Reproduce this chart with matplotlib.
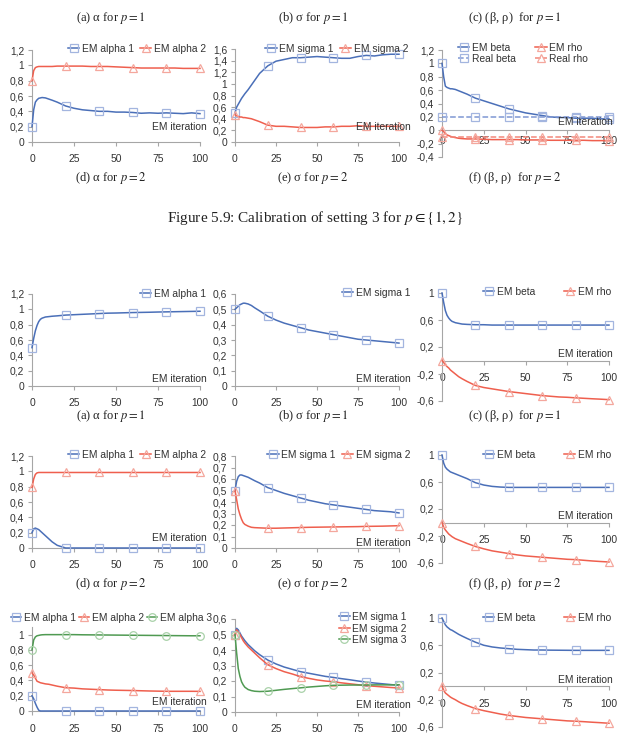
import matplotlib
matplotlib.use("Agg")
import matplotlib.pyplot as plt
from matplotlib.ticker import FuncFormatter

plt.rcParams["font.family"] = ["Liberation Sans", "DejaVu Sans"]
plt.rcParams["mathtext.fontset"] = "stix"

W, H = 625, 740

BLUE, BLUE_M = "#4a6fb8", "#a3b5df"
RED, RED_M = "#ef5f4e", "#f4a79d"
GREEN, GREEN_M = "#4f9a52", "#a9d1a9"
AXIS_GRAY = "#a6a6a6"
TEXT = "#333333"

ITER = [0, 1, 2, 3, 4, 5, 6, 8, 10, 12, 15, 20, 25, 30, 35, 40, 45, 50, 55,
        60, 65, 70, 75, 80, 85, 90, 95, 100]
REAL_ITER = [0, 20, 40, 60, 80, 100]
X_TICKS = [0, 25, 50, 75, 100]

# ---- setting 3 (top block) ----
S3_P1_ALPHA1 = [0.20, 0.42, 0.52, 0.55, 0.57, 0.575, 0.58, 0.575, 0.56, 0.545, 0.52, 0.47, 0.44, 0.42,
                0.41, 0.40, 0.40, 0.39, 0.39, 0.385, 0.375, 0.38, 0.375, 0.38, 0.375, 0.37, 0.38, 0.37]
S3_P1_ALPHA2 = [0.80, 0.93, 0.97, 0.98, 0.985, 0.985, 0.985, 0.985, 0.985, 0.985, 0.99, 0.99, 0.99, 0.99,
                0.985, 0.985, 0.985, 0.98, 0.975, 0.97, 0.965, 0.965, 0.965, 0.965, 0.965, 0.96, 0.96, 0.96]
S3_P1_SIGMA1 = [0.50, 0.60, 0.65, 0.70, 0.75, 0.79, 0.83, 0.90, 0.98, 1.06, 1.18, 1.31, 1.39, 1.42,
                1.45, 1.45, 1.46, 1.47, 1.46, 1.45, 1.44, 1.44, 1.47, 1.49, 1.48, 1.50, 1.51, 1.51]
S3_P1_SIGMA2 = [0.47, 0.45, 0.44, 0.43, 0.43, 0.42, 0.42, 0.41, 0.40, 0.38, 0.35, 0.29, 0.27, 0.27,
                0.26, 0.25, 0.25, 0.25, 0.26, 0.26, 0.27, 0.27, 0.28, 0.27, 0.27, 0.27, 0.27, 0.27]
S3_P1_BETA = [1.0, 0.80, 0.66, 0.64, 0.63, 0.62, 0.62, 0.61, 0.59, 0.57, 0.54, 0.48, 0.44, 0.40,
              0.36, 0.32, 0.29, 0.26, 0.24, 0.22, 0.20, 0.19, 0.19, 0.18, 0.18, 0.18, 0.17, 0.17]
S3_P1_RHO = [0.0, -0.02, -0.05, -0.07, -0.08, -0.09, -0.10, -0.11, -0.12, -0.125, -0.13, -0.13, -0.135, -0.14,
             -0.14, -0.14, -0.14, -0.145, -0.145, -0.145, -0.15, -0.15, -0.15, -0.15, -0.15, -0.155, -0.155, -0.155]
S3_REAL_BETA = [0.2, 0.2, 0.2, 0.2, 0.2, 0.2]
S3_REAL_RHO = [-0.1, -0.1, -0.1, -0.1, -0.1, -0.1]

# ---- next setting, p = 1 ----
B_P1_ALPHA1 = [0.50, 0.62, 0.72, 0.79, 0.84, 0.87, 0.885, 0.90, 0.905, 0.91, 0.915, 0.925, 0.93, 0.935,
               0.94, 0.945, 0.95, 0.952, 0.955, 0.958, 0.96, 0.962, 0.965, 0.967, 0.969, 0.971, 0.973, 0.975]
B_P1_SIGMA1 = [0.50, 0.51, 0.52, 0.53, 0.535, 0.54, 0.54, 0.535, 0.525, 0.51, 0.49, 0.455, 0.43, 0.41,
               0.395, 0.38, 0.365, 0.355, 0.345, 0.335, 0.325, 0.315, 0.305, 0.30, 0.295, 0.29, 0.285, 0.28]
B_P1_BETA = [1.0, 0.86, 0.74, 0.67, 0.63, 0.60, 0.58, 0.56, 0.55, 0.54, 0.535, 0.53, 0.53, 0.525,
             0.525, 0.525, 0.525, 0.525, 0.525, 0.525, 0.525, 0.525, 0.525, 0.525, 0.525, 0.525, 0.525, 0.525]
B_P1_RHO = [0.0, -0.03, -0.06, -0.09, -0.11, -0.14, -0.16, -0.20, -0.24, -0.27, -0.31, -0.37, -0.40, -0.42,
            -0.44, -0.46, -0.475, -0.49, -0.505, -0.52, -0.53, -0.54, -0.545, -0.553, -0.56, -0.567, -0.573, -0.58]

# ---- next setting, p = 2 ----
B_P2_ALPHA1 = [0.20, 0.25, 0.26, 0.25, 0.24, 0.22, 0.20, 0.16, 0.12, 0.08, 0.035, 0.0, 0.0, 0.0,
               0.0, 0.0, 0.0, 0.0, 0.0, 0.0, 0.0, 0.0, 0.0, 0.0, 0.0, 0.0, 0.0, 0.0]
B_P2_ALPHA2 = [0.79, 0.90, 0.96, 0.98, 0.985, 0.985, 0.985, 0.985, 0.985, 0.985, 0.985, 0.985, 0.985, 0.985,
               0.985, 0.985, 0.985, 0.985, 0.985, 0.985, 0.985, 0.985, 0.985, 0.985, 0.985, 0.985, 0.985, 0.985]
B_P2_SIGMA1 = [0.50, 0.58, 0.62, 0.635, 0.635, 0.63, 0.625, 0.615, 0.60, 0.585, 0.565, 0.525, 0.50, 0.475,
               0.455, 0.435, 0.415, 0.40, 0.385, 0.375, 0.365, 0.355, 0.345, 0.335, 0.325, 0.32, 0.315, 0.305]
B_P2_SIGMA2 = [0.50, 0.42, 0.34, 0.29, 0.25, 0.22, 0.205, 0.19, 0.18, 0.177, 0.175, 0.172, 0.172, 0.174,
               0.176, 0.178, 0.18, 0.181, 0.182, 0.183, 0.184, 0.185, 0.186, 0.188, 0.189, 0.19, 0.192, 0.194]
B_P2_BETA = [1.0, 0.88, 0.82, 0.79, 0.77, 0.75, 0.74, 0.72, 0.70, 0.68, 0.65, 0.59, 0.555, 0.535,
             0.525, 0.52, 0.52, 0.52, 0.52, 0.52, 0.52, 0.52, 0.52, 0.52, 0.52, 0.52, 0.52, 0.52]
B_P2_RHO = [0.0, -0.07, -0.11, -0.14, -0.17, -0.19, -0.21, -0.24, -0.26, -0.28, -0.31, -0.355, -0.39, -0.42,
            -0.44, -0.46, -0.48, -0.495, -0.505, -0.515, -0.525, -0.535, -0.545, -0.55, -0.56, -0.57, -0.578, -0.585]

# ---- last block, p = 2 with three components ----
C_P2_ALPHA1 = [0.20, 0.16, 0.10, 0.05, 0.01, 0.0, 0.0, 0.0, 0.0, 0.0, 0.0, 0.0, 0.0, 0.0,
               0.0, 0.0, 0.0, 0.0, 0.0, 0.0, 0.0, 0.0, 0.0, 0.0, 0.0, 0.0, 0.0, 0.0]
C_P2_ALPHA2 = [0.50, 0.47, 0.43, 0.39, 0.38, 0.37, 0.365, 0.355, 0.35, 0.34, 0.325, 0.305, 0.30, 0.29,
               0.285, 0.28, 0.275, 0.272, 0.27, 0.268, 0.265, 0.262, 0.26, 0.258, 0.258, 0.258, 0.258, 0.257]
C_P2_ALPHA3 = [0.80, 0.93, 0.97, 0.985, 0.99, 0.995, 0.998, 1.0, 1.0, 1.0, 1.0, 1.0, 1.0, 0.998,
               0.997, 0.996, 0.995, 0.994, 0.993, 0.992, 0.991, 0.99, 0.989, 0.988, 0.987, 0.986, 0.985, 0.985]
C_P2_SIGMA1 = [0.50, 0.54, 0.53, 0.51, 0.49, 0.475, 0.46, 0.435, 0.415, 0.395, 0.37, 0.335, 0.31, 0.29,
               0.275, 0.26, 0.25, 0.24, 0.23, 0.223, 0.215, 0.208, 0.20, 0.193, 0.187, 0.182, 0.177, 0.172]
C_P2_SIGMA2 = [0.50, 0.53, 0.515, 0.50, 0.48, 0.46, 0.445, 0.42, 0.40, 0.38, 0.35, 0.305, 0.28, 0.26,
               0.245, 0.228, 0.217, 0.207, 0.20, 0.195, 0.188, 0.182, 0.176, 0.17, 0.166, 0.162, 0.158, 0.155]
C_P2_SIGMA3 = [0.50, 0.38, 0.28, 0.23, 0.195, 0.175, 0.16, 0.145, 0.138, 0.134, 0.132, 0.134, 0.14, 0.146,
               0.151, 0.156, 0.161, 0.165, 0.169, 0.172, 0.173, 0.174, 0.174, 0.174, 0.175, 0.175, 0.175, 0.176]
C_P2_BETA = [1.0, 0.95, 0.90, 0.87, 0.85, 0.83, 0.82, 0.79, 0.76, 0.735, 0.70, 0.645, 0.60, 0.575,
             0.56, 0.55, 0.54, 0.535, 0.53, 0.53, 0.528, 0.527, 0.526, 0.525, 0.525, 0.525, 0.525, 0.525]
C_P2_RHO = [0.0, -0.06, -0.10, -0.12, -0.14, -0.16, -0.175, -0.20, -0.23, -0.255, -0.285, -0.33, -0.36, -0.385,
            -0.41, -0.43, -0.445, -0.46, -0.47, -0.48, -0.49, -0.50, -0.51, -0.515, -0.522, -0.53, -0.537, -0.545]


def comma(v, _pos):
    return f"{v:.10g}".replace(".", ",")


def make_axes(fig, left, right, top, bottom):
    """Axes placed by pixel box (top/bottom = pixel rows of y-limits)."""
    return fig.add_axes([left / W, 1 - bottom / H, (right - left) / W, (bottom - top) / H])


def style(ax, ylim, yticks, xpad=6):
    ax.set_xlim(0, 100)
    ax.set_ylim(*ylim)
    ax.set_xticks(X_TICKS)
    ax.set_yticks(yticks)
    ax.yaxis.set_major_formatter(FuncFormatter(comma))
    ax.set_facecolor("none")
    for s in ("top", "right"):
        ax.spines[s].set_visible(False)
    for s in ("left", "bottom"):
        ax.spines[s].set_color(AXIS_GRAY)
        ax.spines[s].set_linewidth(0.8)
    if ylim[0] < 0:
        ax.spines["bottom"].set_position(("data", 0))
    ax.tick_params(direction="out", length=3, width=0.8, color=AXIS_GRAY,
                   labelsize=7.4, labelcolor=TEXT, pad=2.5)
    ax.tick_params(axis="x", pad=xpad)


def series(ax, x, y, color, edge, marker, label, ls="-"):
    marks = [i for i, v in enumerate(x) if v % 20 == 0]
    ax.plot(x, y, color=color, lw=1.1, ls=ls, marker=marker, markevery=marks,
            ms=5.5, mfc="none", mec=edge, mew=0.9, label=label, clip_on=False, zorder=3)


def legend(ax, x, y, loc, ncol=1, colsp=0.6, labsp=0.2, hlen=1.1):
    ax.legend(loc=loc, bbox_to_anchor=(x / W, 1 - y / H), bbox_transform=ax.figure.transFigure,
              ncol=ncol, frameon=False, fontsize=7.4, handlelength=hlen, handletextpad=0.25,
              columnspacing=colsp, borderpad=0, borderaxespad=0, labelspacing=labsp,
              labelcolor=TEXT)


def em_label(fig, right, y):
    fig.text(right / W, 1 - y / H, "EM iteration", ha="right", va="center",
             fontsize=7.4, color=TEXT)


SERIF = ["Liberation Serif", "DejaVu Serif"]


def caption(fig, x, y, s, size=9):
    fig.text(x / W, 1 - y / H, s, ha="center", va="center", fontsize=size,
             family=SERIF, color="#222222")


def caption_row(fig, y, p):
    tags = ("(a)", "(b)", "(c)") if p == "1" else ("(d)", "(e)", "(f)")
    caption(fig, 111, y, f"{tags[0]} α for $p = {p}$")
    caption(fig, 313, y, f"{tags[1]} σ for $p = {p}$")
    caption(fig, 515, y, f"{tags[2]} (β, ρ)  for $p = {p}$")


fig = plt.figure(figsize=(W / 100, H / 100), dpi=100)

# ---------- captions ----------
caption_row(fig, 18, "1")
caption_row(fig, 178, "2")
caption(fig, 315, 218, r"Figure 5.9: Calibration of setting 3 for $p \in \{1,2\}$", size=11)
caption_row(fig, 416, "1")
caption_row(fig, 584, "2")

TICKS_12 = [0, 0.2, 0.4, 0.6, 0.8, 1.0, 1.2]
TICKS_BR = [-0.6, -0.2, 0.2, 0.6, 1.0]

# ---------- row 1 : setting 3 ----------
ax = make_axes(fig, 32, 200, 50, 142)
style(ax, (0, 1.2), TICKS_12)
series(ax, ITER, S3_P1_ALPHA1, BLUE, BLUE_M, "s", "EM alpha 1")
series(ax, ITER, S3_P1_ALPHA2, RED, RED_M, "^", "EM alpha 2")
legend(ax, 206, 49, "center right", ncol=2)
em_label(fig, 207, 127)

ax = make_axes(fig, 235, 399, 49, 142)
style(ax, (0, 1.6), [0, 0.2, 0.4, 0.6, 0.8, 1.0, 1.2, 1.4, 1.6])
series(ax, ITER, S3_P1_SIGMA1, BLUE, BLUE_M, "s", "EM sigma 1")
series(ax, ITER, S3_P1_SIGMA2, RED, RED_M, "^", "EM sigma 2")
legend(ax, 408, 49, "center right", ncol=2)
em_label(fig, 411, 127)

ax = make_axes(fig, 442, 609, 50, 157)
style(ax, (-0.4, 1.2), [-0.4, -0.2, 0, 0.2, 0.4, 0.6, 0.8, 1.0, 1.2], xpad=1.5)
series(ax, ITER, S3_P1_BETA, BLUE, BLUE_M, "s", "EM beta")
series(ax, REAL_ITER, S3_REAL_BETA, "#7f97d3", BLUE_M, "s", "Real beta", ls="--")
series(ax, ITER, S3_P1_RHO, RED, RED_M, "^", "EM rho")
series(ax, REAL_ITER, S3_REAL_RHO, "#f3877a", RED_M, "^", "Real rho", ls="--")
legend(ax, 458, 43, "upper left", ncol=2, colsp=1.9, labsp=0.1)
em_label(fig, 613, 122)

# ---------- row 2 : p = 1 ----------
ax = make_axes(fig, 32, 200, 294, 386)
style(ax, (0, 1.2), TICKS_12)
series(ax, ITER, B_P1_ALPHA1, BLUE, BLUE_M, "s", "EM alpha 1")
legend(ax, 206, 294, "center right")
em_label(fig, 207, 379)

ax = make_axes(fig, 235, 399, 294, 386)
style(ax, (0, 0.6), [0, 0.1, 0.2, 0.3, 0.4, 0.5, 0.6])
series(ax, ITER, B_P1_SIGMA1, BLUE, BLUE_M, "s", "EM sigma 1")
legend(ax, 410, 293, "center right")
em_label(fig, 411, 379)

ax = make_axes(fig, 442, 609, 293, 401)
style(ax, (-0.6, 1.0), TICKS_BR)
series(ax, ITER, B_P1_BETA, BLUE, BLUE_M, "s", "EM beta")
series(ax, ITER, B_P1_RHO, RED, RED_M, "^", "EM rho")
legend(ax, 483, 292, "center left", ncol=2, colsp=2.8)
em_label(fig, 613, 354)

# ---------- row 3 : p = 2 ----------
ax = make_axes(fig, 32, 200, 456, 548)
style(ax, (0, 1.2), TICKS_12)
series(ax, ITER, B_P2_ALPHA1, BLUE, BLUE_M, "s", "EM alpha 1")
series(ax, ITER, B_P2_ALPHA2, RED, RED_M, "^", "EM alpha 2")
legend(ax, 206, 455, "center right", ncol=2)
em_label(fig, 207, 538)

ax = make_axes(fig, 235, 399, 456, 548)
style(ax, (0, 0.8), [0, 0.1, 0.2, 0.3, 0.4, 0.5, 0.6, 0.7, 0.8])
series(ax, ITER, B_P2_SIGMA1, BLUE, BLUE_M, "s", "EM sigma 1")
series(ax, ITER, B_P2_SIGMA2, RED, RED_M, "^", "EM sigma 2")
legend(ax, 410, 455, "center right", ncol=2)
em_label(fig, 411, 543)

ax = make_axes(fig, 442, 609, 455, 563)
style(ax, (-0.6, 1.0), TICKS_BR)
series(ax, ITER, B_P2_BETA, BLUE, BLUE_M, "s", "EM beta")
series(ax, ITER, B_P2_RHO, RED, RED_M, "^", "EM rho")
legend(ax, 483, 455, "center left", ncol=2, colsp=2.8)
em_label(fig, 613, 516)

# ---------- row 4 : p = 2, three components ----------
ax = make_axes(fig, 32, 200, 627, 711)
style(ax, (0, 1.1), [0, 0.2, 0.4, 0.6, 0.8, 1.0])
series(ax, ITER, C_P2_ALPHA1, BLUE, BLUE_M, "s", "EM alpha 1")
series(ax, ITER, C_P2_ALPHA2, RED, RED_M, "^", "EM alpha 2")
series(ax, ITER, C_P2_ALPHA3, GREEN, GREEN_M, "o", "EM alpha 3")
legend(ax, 212, 618, "center right", ncol=3, colsp=0.3, hlen=1.0)
em_label(fig, 207, 702)

ax = make_axes(fig, 235, 399, 619, 712)
style(ax, (0, 0.6), [0, 0.1, 0.2, 0.3, 0.4, 0.5, 0.6])
series(ax, ITER, C_P2_SIGMA1, BLUE, BLUE_M, "s", "EM sigma 1")
series(ax, ITER, C_P2_SIGMA2, RED, RED_M, "^", "EM sigma 2")
series(ax, ITER, C_P2_SIGMA3, GREEN, GREEN_M, "o", "EM sigma 3")
legend(ax, 407, 612, "upper right", labsp=0.15)
em_label(fig, 411, 705)

ax = make_axes(fig, 442, 609, 618, 727)
style(ax, (-0.6, 1.0), TICKS_BR)
series(ax, ITER, C_P2_BETA, BLUE, BLUE_M, "s", "EM beta")
series(ax, ITER, C_P2_RHO, RED, RED_M, "^", "EM rho")
legend(ax, 483, 618, "center left", ncol=2, colsp=2.8)
em_label(fig, 613, 680)

fig.savefig("out.png", dpi=100, facecolor="white")
